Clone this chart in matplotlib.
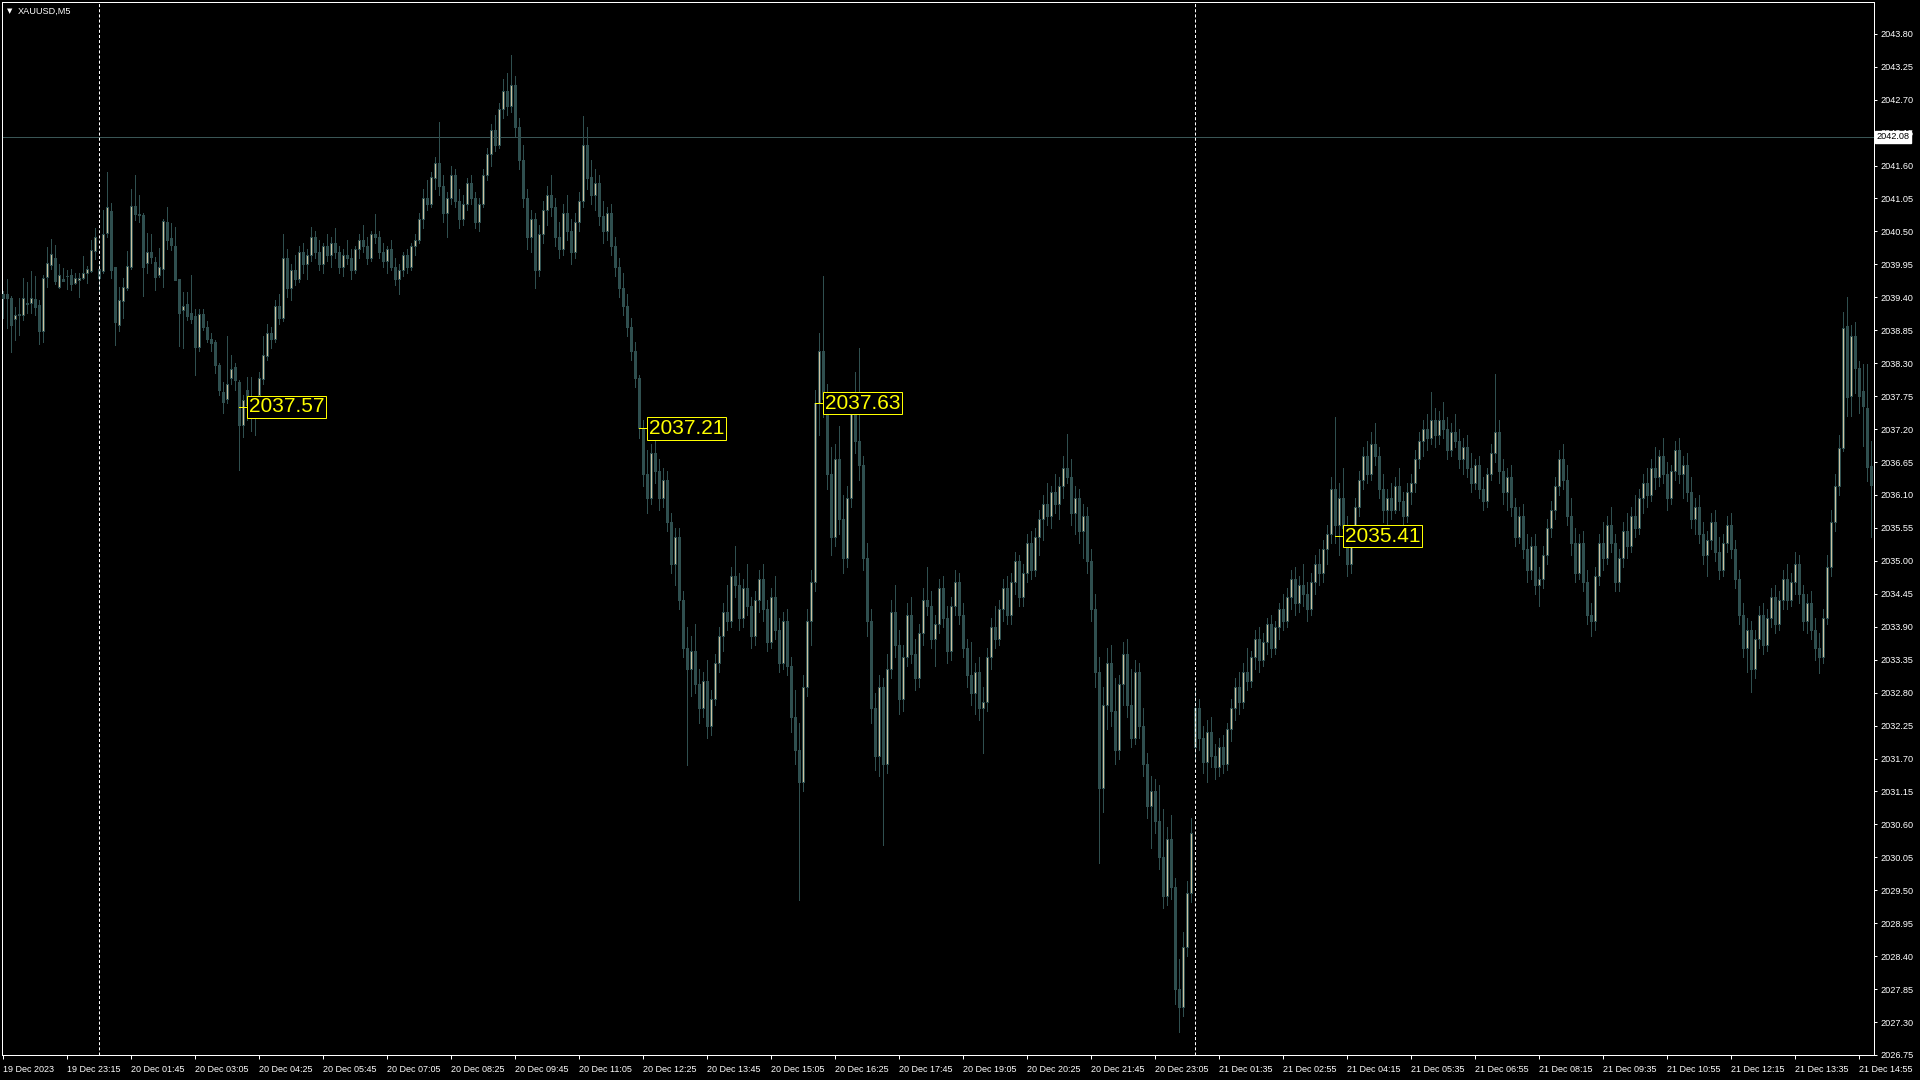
import numpy as np
import matplotlib
matplotlib.use('Agg')
import matplotlib.pyplot as plt
from matplotlib.patches import Rectangle

plt.rcParams['lines.scale_dashes'] = False

# Свечи XAUUSD M5
opens = [
    2039.45, 2039.45, 2039.39, 2039.03, 2039.11, 2039.10, 2039.31, 2039.30, 2039.37, 2039.27,
    2038.84, 2039.74, 2039.94, 2040.05, 2039.58, 2039.70, 2039.75, 2039.77, 2039.64, 2039.69,
    2039.73, 2039.81, 2039.84, 2040.17, 2039.88, 2039.84, 2040.48, 2040.84, 2039.90, 2038.94,
    2039.34, 2039.55, 2039.90, 2040.92, 2040.79, 2040.77, 2039.98, 2040.16, 2039.99, 2039.78,
    2039.88, 2040.65, 2040.39, 2040.26, 2039.70, 2039.18, 2039.29, 2039.14, 2039.09, 2038.57,
    2039.12, 2038.90, 2038.70, 2038.66, 2038.27, 2037.82, 2037.71, 2038.06, 2038.24, 2037.99,
    2037.27, 2037.85, 2037.55, 2037.70, 2037.77, 2038.03, 2038.42, 2038.80, 2038.70, 2039.25,
    2039.05, 2040.05, 2039.55, 2039.85, 2039.70, 2040.15, 2039.95, 2040.10, 2040.40, 2040.15,
    2039.95, 2040.25, 2040.10, 2040.30, 2040.15, 2039.90, 2040.10, 2040.05, 2039.85, 2040.20,
    2040.35, 2040.25, 2040.05, 2040.45, 2040.40, 2040.15, 2040.00, 2040.20, 2039.90, 2039.70,
    2039.85, 2040.10, 2039.90, 2040.25, 2040.35, 2040.70, 2041.05, 2040.95, 2041.40, 2041.65,
    2041.25, 2040.80, 2041.05, 2041.45, 2041.00, 2040.70, 2040.95, 2041.30, 2041.05, 2040.65,
    2040.95, 2041.45, 2041.80, 2042.20, 2041.95, 2042.55, 2042.85, 2042.60, 2042.95, 2042.25,
    2041.70, 2041.05, 2040.40, 2040.70, 2039.85, 2040.45, 2040.85, 2041.10, 2040.90, 2040.40,
    2040.20, 2040.80, 2040.50, 2040.15, 2040.65, 2041.00, 2041.95, 2041.40, 2041.10, 2041.30,
    2040.75, 2040.50, 2040.80, 2040.25, 2039.90, 2039.55, 2039.25, 2038.90, 2038.50, 2038.05,
    2037.21, 2036.45, 2036.05, 2036.80, 2036.50, 2036.05, 2036.35, 2035.65, 2034.95, 2035.40,
    2034.35, 2033.55, 2033.20, 2033.50, 2032.95, 2032.55, 2033.00, 2032.25, 2032.70, 2033.30,
    2033.75, 2034.15, 2034.00, 2034.75, 2034.60, 2034.05, 2034.55, 2034.25, 2033.75, 2034.35,
    2034.70, 2034.20, 2033.65, 2034.40, 2033.85, 2033.30, 2034.00, 2033.25, 2032.40, 2031.85,
    2031.30, 2032.90, 2034.00, 2034.65, 2037.63, 2038.50, 2037.70, 2036.45, 2035.40, 2036.70,
    2035.70, 2035.05, 2036.05, 2037.45, 2037.00, 2036.60, 2035.05, 2034.00, 2032.55, 2031.75,
    2032.90, 2031.60, 2033.20, 2034.15, 2033.60, 2032.70, 2033.40, 2034.10, 2033.45, 2033.05,
    2033.80, 2034.35, 2034.25, 2033.70, 2033.95, 2034.55, 2034.05, 2033.50, 2034.25, 2034.65,
    2034.10, 2033.55, 2033.10, 2032.80, 2033.15, 2032.55, 2032.65, 2033.40, 2033.90, 2033.70,
    2034.20, 2034.55, 2034.10, 2034.65, 2035.00, 2034.40, 2034.80, 2035.30, 2034.85, 2035.40,
    2035.70, 2035.95, 2035.75, 2036.15, 2035.95, 2036.25, 2036.55, 2036.40, 2035.80, 2036.05,
    2035.50, 2035.75, 2035.00, 2034.20, 2033.15, 2031.20, 2032.60, 2033.30, 2032.50, 2031.85,
    2032.95, 2033.45, 2032.60, 2032.05, 2033.15, 2032.25, 2031.60, 2030.90, 2031.15, 2030.65,
    2030.05, 2029.40, 2030.35, 2029.55, 2027.85, 2027.55, 2028.55, 2029.45, 2031.90, 2032.55,
    2032.05, 2031.65, 2032.15, 2031.75, 2031.55, 2031.90, 2031.60, 2032.20, 2032.55, 2032.90,
    2032.65, 2033.15, 2033.00, 2033.40, 2033.70, 2033.35, 2033.65, 2033.95, 2033.55, 2033.90,
    2034.20, 2034.00, 2034.40, 2034.70, 2034.30, 2034.60, 2034.45, 2034.20, 2034.65, 2034.95,
    2034.80, 2035.20, 2035.45, 2036.20, 2035.60, 2036.05, 2035.55, 2034.95, 2035.45, 2035.90,
    2036.35, 2036.75, 2036.45, 2036.95, 2036.75, 2036.20, 2035.85, 2036.05, 2035.85, 2036.25,
    2036.00, 2035.75, 2036.15, 2036.30, 2036.70, 2037.00, 2037.20, 2037.05, 2037.35, 2037.10,
    2037.35, 2037.20, 2036.85, 2037.15, 2037.00, 2036.70, 2036.90, 2036.55, 2036.30, 2036.60,
    2036.20, 2036.00, 2036.45, 2036.80, 2037.15, 2036.50, 2036.15, 2036.40, 2035.90, 2035.40,
    2035.75, 2035.20, 2034.85, 2035.25, 2034.60, 2034.70, 2035.10, 2035.55, 2035.85, 2036.25,
    2036.70, 2036.35, 2035.75, 2035.30, 2034.80, 2035.30, 2034.65, 2034.10, 2034.00, 2034.75,
    2035.30, 2035.05, 2035.60, 2035.30, 2034.65, 2035.05, 2035.50, 2035.25, 2035.75, 2035.55,
    2036.05, 2036.30, 2036.10, 2036.55, 2036.40, 2036.75, 2036.45, 2036.05, 2036.50, 2036.85,
    2036.45, 2036.60, 2036.15, 2035.70, 2035.90, 2035.45, 2035.10, 2035.35, 2035.65, 2035.15,
    2034.85, 2035.30, 2035.60, 2035.20, 2034.70, 2034.10, 2033.55, 2033.85, 2033.20, 2033.70,
    2034.10, 2033.60, 2034.05, 2034.40, 2033.95, 2034.35, 2034.70, 2034.35, 2034.65, 2034.95,
    2034.45, 2034.00, 2034.30, 2033.85, 2033.55, 2033.40, 2034.05, 2034.90, 2035.65, 2036.25,
    2036.89, 2038.92, 2037.75, 2038.75, 2038.22, 2037.84, 2037.55, 2036.59]
highs = [
    2039.50, 2039.70, 2039.42, 2039.24, 2039.39, 2039.73, 2039.65, 2039.84, 2039.75, 2039.35,
    2039.77, 2040.24, 2040.38, 2040.27, 2039.95, 2039.89, 2039.85, 2039.87, 2039.80, 2039.80,
    2040.09, 2039.92, 2040.36, 2040.55, 2039.95, 2040.86, 2041.50, 2040.98, 2039.91, 2039.58,
    2039.72, 2040.18, 2041.20, 2041.45, 2041.10, 2040.80, 2040.48, 2040.45, 2040.08, 2040.23,
    2040.70, 2040.90, 2040.64, 2040.58, 2039.70, 2039.49, 2039.49, 2039.77, 2039.21, 2039.20,
    2039.20, 2039.00, 2038.80, 2038.69, 2038.30, 2037.99, 2038.75, 2038.44, 2038.30, 2038.02,
    2037.77, 2038.07, 2038.07, 2037.74, 2038.15, 2038.75, 2038.95, 2038.90, 2039.35, 2039.45,
    2040.45, 2040.20, 2039.95, 2040.10, 2040.25, 2040.30, 2040.20, 2040.58, 2040.50, 2040.35,
    2040.30, 2040.45, 2040.40, 2040.55, 2040.25, 2040.20, 2040.35, 2040.20, 2040.25, 2040.45,
    2040.60, 2040.40, 2040.50, 2040.79, 2040.50, 2040.30, 2040.25, 2040.35, 2040.05, 2039.95,
    2040.15, 2040.20, 2040.30, 2040.45, 2040.80, 2041.20, 2041.35, 2041.50, 2041.75, 2042.32,
    2041.45, 2041.15, 2041.60, 2041.55, 2041.20, 2041.10, 2041.40, 2041.45, 2041.15, 2041.05,
    2041.55, 2041.90, 2042.30, 2042.45, 2042.65, 2043.05, 2043.15, 2043.44, 2043.10, 2042.40,
    2041.95, 2041.20, 2040.85, 2040.80, 2040.60, 2041.00, 2041.25, 2041.45, 2041.05, 2040.65,
    2040.95, 2041.10, 2040.70, 2040.80, 2041.15, 2042.42, 2042.25, 2041.70, 2041.55, 2041.45,
    2041.00, 2040.90, 2040.95, 2040.40, 2040.05, 2039.80, 2039.45, 2039.05, 2038.65, 2038.10,
    2037.35, 2036.85, 2036.95, 2037.05, 2036.70, 2036.55, 2036.50, 2035.80, 2035.55, 2035.55,
    2034.50, 2033.90, 2033.75, 2033.95, 2033.20, 2033.15, 2033.35, 2032.85, 2033.45, 2033.90,
    2034.30, 2034.60, 2034.90, 2035.25, 2034.80, 2034.70, 2034.95, 2034.40, 2034.50, 2034.85,
    2034.95, 2034.35, 2034.55, 2034.75, 2034.05, 2034.15, 2034.20, 2033.40, 2032.85, 2032.30,
    2033.10, 2034.20, 2034.85, 2037.85, 2038.80, 2039.76, 2037.95, 2036.90, 2036.95, 2037.25,
    2036.10, 2036.25, 2037.70, 2038.15, 2038.55, 2036.75, 2035.30, 2034.20, 2032.80, 2033.10,
    2033.05, 2033.45, 2034.35, 2034.60, 2033.85, 2033.60, 2034.30, 2034.40, 2033.70, 2033.95,
    2034.55, 2034.90, 2034.50, 2034.10, 2034.70, 2034.75, 2034.25, 2034.40, 2034.85, 2034.80,
    2034.30, 2033.70, 2033.65, 2033.30, 2033.40, 2032.90, 2033.55, 2034.05, 2034.25, 2034.35,
    2034.70, 2034.75, 2034.80, 2035.15, 2035.10, 2034.95, 2035.45, 2035.50, 2035.55, 2035.85,
    2036.10, 2036.30, 2036.25, 2036.45, 2036.40, 2036.75, 2037.11, 2036.70, 2036.25, 2036.20,
    2035.95, 2035.90, 2035.20, 2034.45, 2033.40, 2032.90, 2033.55, 2033.60, 2033.05, 2033.10,
    2033.65, 2033.70, 2033.20, 2033.35, 2033.30, 2032.55, 2031.80, 2031.40, 2031.35, 2031.25,
    2030.85, 2030.55, 2030.75, 2029.70, 2028.35, 2028.80, 2029.65, 2030.70, 2032.85, 2032.70,
    2032.25, 2032.35, 2032.40, 2031.95, 2032.05, 2032.10, 2032.30, 2032.70, 2033.05, 2033.15,
    2033.30, 2033.55, 2033.50, 2033.85, 2033.90, 2033.80, 2034.05, 2034.10, 2034.00, 2034.30,
    2034.45, 2034.55, 2034.85, 2034.90, 2034.75, 2034.95, 2034.65, 2034.80, 2035.10, 2035.20,
    2035.35, 2035.60, 2036.40, 2037.40, 2036.30, 2036.55, 2035.75, 2035.60, 2036.05, 2036.50,
    2036.90, 2037.00, 2037.15, 2037.30, 2036.90, 2036.45, 2036.20, 2036.30, 2036.40, 2036.55,
    2036.15, 2036.30, 2036.45, 2036.85, 2037.15, 2037.35, 2037.45, 2037.82, 2037.55, 2037.50,
    2037.65, 2037.40, 2037.30, 2037.45, 2037.20, 2037.05, 2037.10, 2036.80, 2036.70, 2036.75,
    2036.40, 2036.55, 2036.95, 2038.12, 2037.35, 2036.70, 2036.55, 2036.60, 2036.05, 2035.90,
    2035.95, 2035.45, 2035.40, 2035.45, 2034.90, 2035.25, 2035.70, 2036.00, 2036.40, 2036.85,
    2036.95, 2036.60, 2036.05, 2035.55, 2035.45, 2035.50, 2034.85, 2034.30, 2034.90, 2035.45,
    2035.65, 2035.75, 2035.90, 2035.45, 2035.20, 2035.65, 2035.80, 2035.90, 2036.10, 2036.20,
    2036.45, 2036.55, 2036.70, 2036.90, 2036.85, 2037.05, 2036.65, 2036.60, 2037.00, 2037.05,
    2036.75, 2036.80, 2036.40, 2036.05, 2036.10, 2035.65, 2035.50, 2035.80, 2035.85, 2035.40,
    2035.45, 2035.75, 2035.80, 2035.35, 2034.85, 2034.30, 2034.05, 2034.00, 2033.85, 2034.25,
    2034.30, 2034.20, 2034.55, 2034.60, 2034.50, 2034.85, 2034.95, 2034.80, 2035.15, 2035.10,
    2034.60, 2034.45, 2034.50, 2034.05, 2033.80, 2034.20, 2035.10, 2035.85, 2036.45, 2037.10,
    2039.15, 2039.40, 2038.94, 2038.98, 2038.33, 2038.28, 2038.28, 2037.00]
lows = [
    2039.06, 2038.89, 2038.49, 2038.69, 2038.77, 2039.02, 2039.13, 2039.14, 2039.10, 2038.62,
    2038.66, 2039.58, 2039.88, 2039.63, 2039.55, 2039.68, 2039.54, 2039.52, 2039.63, 2039.41,
    2039.70, 2039.64, 2039.83, 2040.04, 2039.49, 2039.80, 2040.41, 2039.72, 2038.60, 2038.83,
    2039.05, 2039.52, 2039.88, 2040.69, 2040.66, 2039.42, 2039.80, 2039.98, 2039.52, 2039.74,
    2039.58, 2040.20, 2040.19, 2039.69, 2038.58, 2038.56, 2039.02, 2038.97, 2038.10, 2038.50,
    2038.85, 2038.65, 2038.50, 2038.13, 2037.77, 2037.46, 2037.63, 2037.96, 2037.85, 2036.52,
    2037.07, 2037.35, 2037.16, 2037.10, 2037.65, 2037.95, 2038.35, 2038.55, 2038.65, 2038.95,
    2039.00, 2039.40, 2039.35, 2039.60, 2039.65, 2039.80, 2039.70, 2040.00, 2040.05, 2039.85,
    2039.80, 2040.00, 2039.90, 2040.05, 2039.80, 2039.75, 2039.95, 2039.70, 2039.80, 2040.05,
    2040.15, 2039.95, 2040.00, 2040.30, 2040.05, 2039.90, 2039.80, 2039.85, 2039.60, 2039.46,
    2039.75, 2039.80, 2039.85, 2040.10, 2040.30, 2040.55, 2040.85, 2040.90, 2041.20, 2041.10,
    2040.65, 2040.40, 2040.95, 2040.90, 2040.55, 2040.60, 2040.85, 2040.95, 2040.55, 2040.50,
    2040.90, 2041.35, 2041.60, 2041.85, 2041.90, 2042.40, 2042.45, 2042.50, 2042.10, 2041.55,
    2040.90, 2040.20, 2040.15, 2039.56, 2039.75, 2040.30, 2040.60, 2040.75, 2040.25, 2040.05,
    2040.10, 2040.35, 2039.95, 2040.05, 2040.50, 2040.90, 2041.20, 2040.95, 2040.85, 2040.60,
    2040.30, 2040.35, 2040.10, 2039.75, 2039.40, 2039.10, 2038.75, 2038.35, 2037.90, 2037.05,
    2036.25, 2035.80, 2035.95, 2036.30, 2035.85, 2035.90, 2035.50, 2034.80, 2034.60, 2034.20,
    2033.40, 2031.59, 2032.75, 2032.80, 2032.30, 2032.40, 2032.05, 2032.10, 2032.60, 2033.15,
    2033.50, 2033.85, 2033.90, 2034.40, 2033.85, 2033.90, 2034.10, 2033.55, 2033.60, 2034.15,
    2034.00, 2033.50, 2033.55, 2033.70, 2033.15, 2033.20, 2033.10, 2032.15, 2031.60, 2029.34,
    2031.15, 2032.75, 2033.60, 2034.50, 2037.10, 2037.40, 2036.20, 2035.10, 2035.25, 2035.45,
    2034.80, 2034.90, 2035.90, 2036.80, 2036.35, 2034.85, 2033.75, 2032.30, 2031.50, 2031.40,
    2030.26, 2031.45, 2033.05, 2033.40, 2032.45, 2032.50, 2033.25, 2033.30, 2032.85, 2032.90,
    2033.60, 2034.10, 2033.55, 2033.25, 2033.80, 2033.90, 2033.30, 2033.35, 2034.10, 2033.95,
    2033.40, 2032.90, 2032.60, 2032.45, 2032.35, 2031.79, 2032.50, 2033.20, 2033.55, 2033.60,
    2034.00, 2033.95, 2033.95, 2034.45, 2034.25, 2034.25, 2034.65, 2034.70, 2034.75, 2035.10,
    2035.35, 2035.60, 2035.55, 2035.80, 2035.70, 2036.05, 2036.30, 2035.60, 2035.45, 2035.30,
    2035.05, 2034.80, 2034.00, 2032.90, 2029.95, 2030.80, 2032.20, 2032.25, 2031.60, 2031.70,
    2032.60, 2032.40, 2031.90, 2031.95, 2032.05, 2031.40, 2030.70, 2030.20, 2030.45, 2029.85,
    2029.20, 2029.25, 2029.35, 2027.60, 2027.13, 2027.40, 2028.40, 2029.30, 2031.70, 2031.85,
    2031.45, 2031.30, 2031.55, 2031.35, 2031.40, 2031.45, 2031.50, 2032.00, 2032.35, 2032.45,
    2032.55, 2032.85, 2032.90, 2033.20, 2033.15, 2033.25, 2033.45, 2033.40, 2033.45, 2033.70,
    2033.85, 2033.90, 2034.20, 2034.10, 2034.15, 2034.25, 2034.00, 2034.10, 2034.45, 2034.60,
    2034.65, 2034.95, 2035.30, 2035.30, 2035.10, 2035.40, 2034.75, 2034.80, 2035.30, 2035.75,
    2036.20, 2036.30, 2036.35, 2036.60, 2036.05, 2035.65, 2035.60, 2035.70, 2035.80, 2035.85,
    2035.55, 2035.65, 2035.95, 2036.15, 2036.55, 2036.75, 2036.85, 2036.95, 2036.90, 2036.95,
    2037.05, 2036.70, 2036.75, 2036.90, 2036.55, 2036.45, 2036.40, 2036.15, 2036.20, 2036.05,
    2035.85, 2035.90, 2036.35, 2036.65, 2036.30, 2035.95, 2035.85, 2035.75, 2035.25, 2035.30,
    2035.05, 2034.65, 2034.70, 2034.45, 2034.25, 2034.55, 2034.95, 2035.40, 2035.70, 2036.10,
    2036.20, 2035.60, 2035.10, 2034.65, 2034.70, 2034.50, 2033.95, 2033.75, 2033.85, 2034.60,
    2034.85, 2034.95, 2035.15, 2034.50, 2034.50, 2034.90, 2035.05, 2035.15, 2035.40, 2035.45,
    2035.80, 2035.90, 2036.00, 2036.20, 2036.25, 2036.30, 2035.85, 2035.95, 2036.35, 2036.30,
    2036.05, 2036.00, 2035.55, 2035.45, 2035.30, 2034.95, 2034.75, 2035.20, 2035.00, 2034.70,
    2034.75, 2035.15, 2035.05, 2034.55, 2033.95, 2033.40, 2033.15, 2032.81, 2033.05, 2033.55,
    2033.45, 2033.50, 2033.90, 2033.80, 2033.85, 2034.20, 2034.20, 2034.25, 2034.45, 2034.30,
    2033.85, 2033.80, 2033.70, 2033.35, 2033.12, 2033.30, 2033.95, 2034.75, 2035.50, 2036.10,
    2036.83, 2037.41, 2037.41, 2037.81, 2037.46, 2036.91, 2036.33, 2035.40]
closes = [
    2039.39, 2039.38, 2038.94, 2039.10, 2039.12, 2039.38, 2039.29, 2039.38, 2039.24, 2038.84,
    2039.73, 2039.97, 2040.13, 2039.68, 2039.78, 2039.68, 2039.75, 2039.63, 2039.72, 2039.73,
    2039.80, 2039.87, 2040.19, 2040.40, 2039.73, 2040.46, 2040.90, 2039.85, 2038.98, 2039.35,
    2039.57, 2039.92, 2040.92, 2040.79, 2040.78, 2039.91, 2040.16, 2040.08, 2039.74, 2039.90,
    2040.67, 2040.36, 2040.27, 2039.69, 2039.13, 2039.25, 2039.09, 2039.03, 2038.57, 2039.12,
    2038.90, 2038.70, 2038.64, 2038.27, 2037.85, 2037.66, 2037.96, 2038.21, 2038.02, 2037.27,
    2037.69, 2037.60, 2037.75, 2037.60, 2038.05, 2038.44, 2038.80, 2038.70, 2039.25, 2039.05,
    2040.05, 2039.55, 2039.85, 2039.70, 2040.15, 2039.95, 2040.10, 2040.40, 2040.15, 2039.95,
    2040.25, 2040.10, 2040.30, 2040.15, 2039.90, 2040.10, 2040.05, 2039.85, 2040.20, 2040.35,
    2040.25, 2040.05, 2040.45, 2040.40, 2040.15, 2040.00, 2040.20, 2039.90, 2039.70, 2039.85,
    2040.10, 2039.90, 2040.25, 2040.35, 2040.70, 2041.05, 2040.95, 2041.40, 2041.65, 2041.25,
    2040.80, 2041.05, 2041.45, 2041.00, 2040.70, 2040.95, 2041.30, 2041.05, 2040.65, 2040.95,
    2041.45, 2041.80, 2042.20, 2041.95, 2042.55, 2042.85, 2042.60, 2042.95, 2042.25, 2041.70,
    2041.05, 2040.40, 2040.70, 2039.85, 2040.45, 2040.85, 2041.10, 2040.90, 2040.40, 2040.20,
    2040.80, 2040.50, 2040.15, 2040.65, 2041.00, 2041.95, 2041.40, 2041.10, 2041.30, 2040.75,
    2040.50, 2040.80, 2040.25, 2039.90, 2039.55, 2039.25, 2038.90, 2038.50, 2038.05, 2037.21,
    2036.45, 2036.05, 2036.80, 2036.50, 2036.05, 2036.35, 2035.65, 2034.95, 2035.40, 2034.35,
    2033.55, 2033.20, 2033.50, 2032.95, 2032.55, 2033.00, 2032.25, 2032.70, 2033.30, 2033.75,
    2034.15, 2034.00, 2034.75, 2034.60, 2034.05, 2034.55, 2034.25, 2033.75, 2034.35, 2034.70,
    2034.20, 2033.65, 2034.40, 2033.85, 2033.30, 2034.00, 2033.25, 2032.40, 2031.85, 2031.30,
    2032.90, 2034.00, 2034.65, 2037.63, 2038.50, 2037.70, 2036.45, 2035.40, 2036.70, 2035.70,
    2035.05, 2036.05, 2037.45, 2037.00, 2036.60, 2035.05, 2034.00, 2032.55, 2031.75, 2032.90,
    2031.60, 2033.20, 2034.15, 2033.60, 2032.70, 2033.40, 2034.10, 2033.45, 2033.05, 2033.80,
    2034.35, 2034.25, 2033.70, 2033.95, 2034.55, 2034.05, 2033.50, 2034.25, 2034.65, 2034.10,
    2033.55, 2033.10, 2032.80, 2033.15, 2032.55, 2032.65, 2033.40, 2033.90, 2033.70, 2034.20,
    2034.55, 2034.10, 2034.65, 2035.00, 2034.40, 2034.80, 2035.30, 2034.85, 2035.40, 2035.70,
    2035.95, 2035.75, 2036.15, 2035.95, 2036.25, 2036.55, 2036.40, 2035.80, 2036.05, 2035.50,
    2035.75, 2035.00, 2034.20, 2033.15, 2031.20, 2032.60, 2033.30, 2032.50, 2031.85, 2032.95,
    2033.45, 2032.60, 2032.05, 2033.15, 2032.25, 2031.60, 2030.90, 2031.15, 2030.65, 2030.05,
    2029.40, 2030.35, 2029.55, 2027.85, 2027.55, 2028.55, 2029.45, 2030.45, 2032.55, 2032.05,
    2031.65, 2032.15, 2031.75, 2031.55, 2031.90, 2031.60, 2032.20, 2032.55, 2032.90, 2032.65,
    2033.15, 2033.00, 2033.40, 2033.70, 2033.35, 2033.65, 2033.95, 2033.55, 2033.90, 2034.20,
    2034.00, 2034.40, 2034.70, 2034.30, 2034.60, 2034.45, 2034.20, 2034.65, 2034.95, 2034.80,
    2035.20, 2035.45, 2036.20, 2035.60, 2036.05, 2035.55, 2034.95, 2035.45, 2035.90, 2036.35,
    2036.75, 2036.45, 2036.95, 2036.75, 2036.20, 2035.85, 2036.05, 2035.85, 2036.25, 2036.00,
    2035.75, 2036.15, 2036.30, 2036.70, 2037.00, 2037.20, 2037.05, 2037.35, 2037.10, 2037.35,
    2037.20, 2036.85, 2037.15, 2037.00, 2036.70, 2036.90, 2036.55, 2036.30, 2036.60, 2036.20,
    2036.00, 2036.45, 2036.80, 2037.15, 2036.50, 2036.15, 2036.40, 2035.90, 2035.40, 2035.75,
    2035.20, 2034.85, 2035.25, 2034.60, 2034.70, 2035.10, 2035.55, 2035.85, 2036.25, 2036.70,
    2036.35, 2035.75, 2035.30, 2034.80, 2035.30, 2034.65, 2034.10, 2034.00, 2034.75, 2035.30,
    2035.05, 2035.60, 2035.30, 2034.65, 2035.05, 2035.50, 2035.25, 2035.75, 2035.55, 2036.05,
    2036.30, 2036.10, 2036.55, 2036.40, 2036.75, 2036.45, 2036.05, 2036.50, 2036.85, 2036.45,
    2036.60, 2036.15, 2035.70, 2035.90, 2035.45, 2035.10, 2035.35, 2035.65, 2035.15, 2034.85,
    2035.30, 2035.60, 2035.20, 2034.70, 2034.10, 2033.55, 2033.85, 2033.20, 2033.70, 2034.10,
    2033.60, 2034.05, 2034.40, 2033.95, 2034.35, 2034.70, 2034.35, 2034.65, 2034.95, 2034.45,
    2034.00, 2034.30, 2033.85, 2033.55, 2033.40, 2034.05, 2034.90, 2035.65, 2036.25, 2036.89,
    2038.89, 2037.73, 2038.75, 2038.22, 2037.75, 2037.58, 2036.56, 2036.27]

time_labels = ['19 Dec 2023', '19 Dec 23:15', '20 Dec 01:45', '20 Dec 03:05', '20 Dec 04:25',
               '20 Dec 05:45', '20 Dec 07:05', '20 Dec 08:25', '20 Dec 09:45', '20 Dec 11:05',
               '20 Dec 12:25', '20 Dec 13:45', '20 Dec 15:05', '20 Dec 16:25', '20 Dec 17:45',
               '20 Dec 19:05', '20 Dec 20:25', '20 Dec 21:45', '20 Dec 23:05', '21 Dec 01:35',
               '21 Dec 02:55', '21 Dec 04:15', '21 Dec 05:35', '21 Dec 06:55', '21 Dec 08:15',
               '21 Dec 09:35', '21 Dec 10:55', '21 Dec 12:15', '21 Dec 13:35', '21 Dec 14:55']
bars_per_label = 16
separator_bars = [24, 298]
bid_price = 2042.08
mark_bars = [59, 159, 203, 333]
mark_prices = [2037.57, 2037.21, 2037.63, 2035.41]

y_min, y_max = 2026.75, 2044.33
x_right = 467.75

bull_fill = '#cdc29e'
candle_edge = '#2f4f4f'

fig = plt.figure(figsize=(19.2, 10.8), dpi=100, facecolor='black')
ax = fig.add_axes([2 / 1920, 25 / 1080, 1872 / 1920, 1053 / 1080])
ax.set_facecolor('black')
ax.set_xlim(-0.25, x_right)
ax.set_ylim(y_min, y_max)

px = 0.72  # один пиксель в пунктах

n = min(len(opens), len(highs), len(lows), len(closes))
idx = np.arange(n)

# фитили
ax.vlines(idx, lows[:n], highs[:n], color=candle_edge, linewidth=px, antialiased=False, zorder=2)

# тела свечей
for i in range(n):
    o, c = opens[i], closes[i]
    lo, hi = min(o, c), max(o, c)
    fc = bull_fill if c > o else candle_edge
    ax.add_patch(Rectangle((i - 0.3, lo), 0.6, max(hi - lo, 0.001), facecolor=fc,
                           edgecolor=candle_edge, linewidth=px, antialiased=False, zorder=3))

# линия bid
ax.axhline(bid_price, color='#3a5656', linewidth=px, zorder=1)

# разделители дней
for b in separator_bars:
    ax.axvline(b, color='white', linewidth=px, linestyle=(0, (2.2, 1.5)), zorder=4)

# ценовые метки
for b, p in zip(mark_bars, mark_prices):
    ax.plot([b, b + 2.3], [p, p], color='yellow', linewidth=px, zorder=5)
    ax.text(b + 2.5, p, f'{p:.2f}', color='yellow', fontsize=15, family='Liberation Sans',
            va='center', ha='left', zorder=6,
            bbox=dict(boxstyle='square,pad=0.08', facecolor='black', edgecolor='yellow', linewidth=px))

# оси
for s in ax.spines.values():
    s.set_color('white')
    s.set_linewidth(px)

ax.yaxis.tick_right()
yt = np.round(np.arange(2026.75, 2043.81, 0.55), 2)
ax.set_yticks(yt)
ax.set_yticklabels([f'{v:.2f}' for v in yt])
ax.tick_params(axis='y', colors='white', length=2.5, width=px, pad=2, labelsize=6.6)
for lbl in ax.get_yticklabels():
    lbl.set_family('Liberation Sans')

xt = np.arange(len(time_labels)) * bars_per_label
ax.set_xticks(xt)
ax.set_xticklabels(time_labels)
ax.tick_params(axis='x', colors='white', length=3, width=px, pad=4, labelsize=6.5)
for lbl in ax.get_xticklabels():
    lbl.set_family('Liberation Sans')
    lbl.set_horizontalalignment('left')

# метка текущей цены на шкале
ax.text(1.0015, bid_price, f'{bid_price:.2f}', transform=ax.get_yaxis_transform(),
        color='black', fontsize=6.6, family='Liberation Sans', va='center', ha='left', zorder=10,
        bbox=dict(boxstyle='square,pad=0.15', facecolor='white', edgecolor='white'), clip_on=False)

# заголовок
fig.text(7 / 1920, 1 - 11 / 1080, '\u25bc', color='white', fontsize=5, va='center', ha='left')
fig.text(18 / 1920, 1 - 11 / 1080, 'XAUUSD,M5', color='white', fontsize=6.6,
         family='Liberation Sans', va='center', ha='left')

fig.savefig('out.png', dpi=100, facecolor='black')
